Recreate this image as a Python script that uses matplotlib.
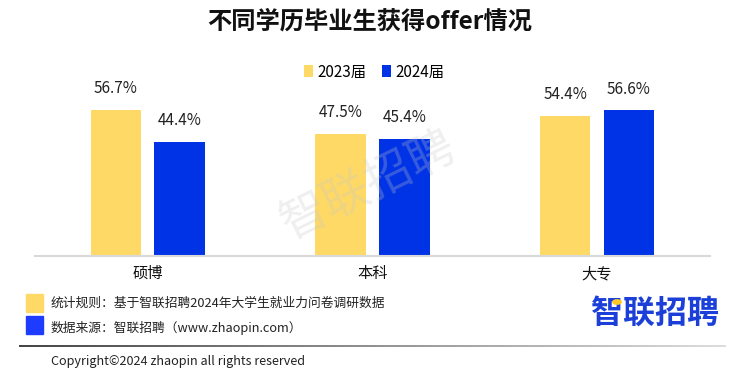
import numpy as np
import matplotlib
matplotlib.use("Agg")
import matplotlib.pyplot as plt
from matplotlib.collections import LineCollection
from matplotlib.patches import Circle

plt.rcParams['font.family'] = ['Noto Sans CJK SC', 'DejaVu Sans']

# ---- data ----
categories = ["硕博", "本科", "大专"]
series_names = ["2023届", "2024届"]
values_2023 = [56.7, 47.5, 54.4]
values_2024 = [44.4, 45.4, 56.6]
title = "不同学历毕业生获得offer情况"
note_rule = "统计规则：基于智联招聘2024年大学生就业力问卷调研数据"
note_source = "数据来源：智联招聘（www.zhaopin.com）"
copyright_text = "Copyright©2024 zhaopin all rights reserved"
logo_text = "智联招聘"

# ---- style ----
W, H = 754, 389
c_yellow = "#FFD966"
c_blue = "#0033E6"
c_note_blue = "#1E3CFF"
c_logo = "#1B3FD8"

fig = plt.figure(figsize=(W / 100, H / 100), dpi=100)
fig.patch.set_facecolor("white")


def fx(x):
    return x / W


def fy(y):
    return 1 - y / H


# axes: baseline at y=255.5 px, scale 2.567 px per unit
base_px = 255.5
top_px = 50.0
ax = fig.add_axes([0, fy(base_px), 1, (base_px - top_px) / H])
ax.set_ylim(0, (base_px - top_px) / 2.567)
spacing = 224.65
c0 = 147.7
ax.set_xlim(-c0 / spacing, (W - c0) / spacing)
for s in ax.spines.values():
    s.set_visible(False)
ax.set_yticks([])

x = np.arange(len(categories))
bw = 0.225
off = 0.142
b1 = ax.bar(x - off, values_2023, bw, color=c_yellow, label=series_names[0], zorder=2)
b2 = ax.bar(x + off, values_2024, bw, color=c_blue, label=series_names[1], zorder=2)

for bars, vals in ((b1, values_2023), (b2, values_2024)):
    for r, v in zip(bars, vals):
        ax.annotate(f"{v:.1f}%", xy=(r.get_x() + r.get_width() / 2, v),
                    xytext=(0, 21), textcoords="offset pixels",
                    ha="center", va="center", fontsize=11, color="#222222")

ax.plot([-0.502, 2.503], [0, 0], color="#d9d9d9", lw=1.5, zorder=3, clip_on=False)

ax.set_xticks(x)
ax.set_xticklabels(categories, fontsize=11, color="#111111")
ax.tick_params(axis="x", length=0, pad=7)

leg = ax.legend(handles=[b1, b2], loc="center", bbox_to_anchor=(fx(374), fy(72)),
                bbox_transform=fig.transFigure, ncol=2, frameon=False,
                fontsize=11, handlelength=0.6, handleheight=0.8,
                handletextpad=0.3, columnspacing=1.0)

# title
fig.text(fx(370), fy(22), title, ha="center", va="center", fontsize=17.5,
         fontweight="bold", color="#111111")

# watermark
fig.text(fx(368), fy(187), logo_text, ha="center", va="center", fontsize=34,
         rotation=26, color="#c8c8c8", alpha=0.28, zorder=10)

# footer notes
fig.patches.append(plt.Rectangle((fx(26), fy(312)), 17 / W, 18 / H,
                                 transform=fig.transFigure, color=c_yellow))
fig.patches.append(plt.Rectangle((fx(26), fy(334)), 17 / W, 18 / H,
                                 transform=fig.transFigure, color=c_note_blue))
fig.text(fx(51), fy(303), note_rule, ha="left", va="center", fontsize=9.2, color="#222222")
fig.text(fx(51), fy(328), note_source, ha="left", va="center", fontsize=9.2, color="#222222")

# gradient footer line
xs = np.linspace(fx(19), fx(726), 120)
segs = [[(xs[i], fy(345.7)), (xs[i + 1], fy(345.7))] for i in range(len(xs) - 1)]
t = np.linspace(0, 1, len(segs))
cols = [(0.2 + 0.65 * ti, 0.2 + 0.65 * ti, 0.2 + 0.65 * ti) for ti in t]
lc = LineCollection(segs, colors=cols, linewidths=1.3, transform=fig.transFigure)
fig.add_artist(lc)

fig.text(fx(51), fy(362), copyright_text, ha="left", va="center", fontsize=9.1, color="#222222")

# logo
fig.text(fx(655), fy(314), logo_text, ha="center", va="center", fontsize=23,
         fontweight="bold", color=c_logo)
fig.add_artist(Circle((fx(617), fy(302)), 4.2 / W, transform=fig.transFigure,
                      color="#FFC928", zorder=12))

fig.savefig("out.png", dpi=100)
